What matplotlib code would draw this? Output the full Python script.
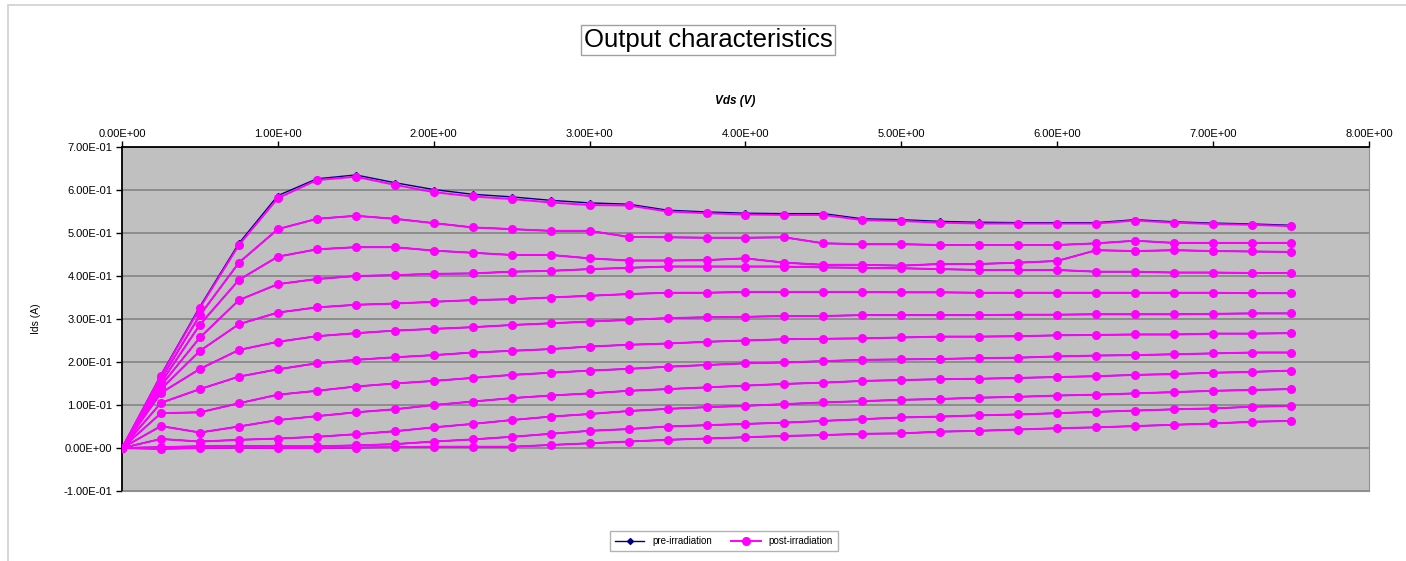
"""
Output characteristics: Ids vs Vds, pre- and post-irradiation
"""

import matplotlib.pyplot as plt
from matplotlib.patches import Rectangle

plt.rcParams['font.family'] = ['Liberation Sans', 'DejaVu Sans']

vds = [0.0, 0.25, 0.5, 0.75, 1.0, 1.25, 1.5, 1.75, 2.0, 2.25, 2.5, 2.75,
       3.0, 3.25, 3.5, 3.75, 4.0, 4.25, 4.5, 4.75, 5.0, 5.25, 5.5, 5.75,
       6.0, 6.25, 6.5, 6.75, 7.0, 7.25, 7.5]

# post-irradiation curves, highest gate bias first
post_1 = [0, 0.168, 0.326, 0.472, 0.581, 0.623, 0.631, 0.612, 0.595, 0.585,
          0.579, 0.571, 0.565, 0.564, 0.550, 0.546, 0.543, 0.542, 0.542,
          0.530, 0.528, 0.524, 0.522, 0.522, 0.522, 0.522, 0.529, 0.524,
          0.521, 0.519, 0.516]
post_2 = [0, 0.160, 0.309, 0.431, 0.509, 0.533, 0.540, 0.533, 0.523, 0.513,
          0.509, 0.505, 0.505, 0.491, 0.490, 0.489, 0.489, 0.490, 0.476,
          0.474, 0.474, 0.472, 0.472, 0.472, 0.472, 0.476, 0.482, 0.477,
          0.477, 0.477, 0.477]
post_3 = [0, 0.152, 0.287, 0.391, 0.445, 0.462, 0.467, 0.467, 0.459, 0.454,
          0.449, 0.449, 0.441, 0.436, 0.436, 0.437, 0.441, 0.431, 0.426,
          0.426, 0.424, 0.428, 0.428, 0.431, 0.435, 0.460, 0.458, 0.460,
          0.458, 0.457, 0.456]
post_4 = [0, 0.145, 0.257, 0.344, 0.381, 0.393, 0.400, 0.402, 0.405, 0.406,
          0.410, 0.412, 0.416, 0.419, 0.422, 0.422, 0.422, 0.422, 0.420,
          0.419, 0.418, 0.416, 0.414, 0.414, 0.414, 0.410, 0.410, 0.408,
          0.408, 0.407, 0.407]
post_5 = [0, 0.137, 0.226, 0.288, 0.315, 0.327, 0.333, 0.336, 0.340, 0.344,
          0.346, 0.350, 0.354, 0.358, 0.361, 0.361, 0.363, 0.363, 0.363,
          0.363, 0.362, 0.362, 0.361, 0.361, 0.361, 0.361, 0.361, 0.361,
          0.361, 0.360, 0.360]
post_6 = [0, 0.128, 0.184, 0.228, 0.247, 0.260, 0.267, 0.273, 0.277, 0.281,
          0.286, 0.290, 0.294, 0.298, 0.302, 0.304, 0.305, 0.307, 0.307,
          0.309, 0.309, 0.309, 0.309, 0.310, 0.310, 0.311, 0.311, 0.311,
          0.312, 0.313, 0.313]
post_7 = [0, 0.105, 0.137, 0.166, 0.183, 0.197, 0.205, 0.211, 0.216, 0.222,
          0.226, 0.230, 0.236, 0.240, 0.243, 0.247, 0.250, 0.253, 0.254,
          0.255, 0.257, 0.259, 0.259, 0.260, 0.262, 0.263, 0.264, 0.264,
          0.266, 0.266, 0.267]
post_8 = [0, 0.081, 0.083, 0.104, 0.124, 0.133, 0.143, 0.150, 0.156, 0.163,
          0.170, 0.175, 0.180, 0.184, 0.189, 0.193, 0.197, 0.199, 0.202,
          0.205, 0.206, 0.207, 0.209, 0.210, 0.213, 0.215, 0.216, 0.218,
          0.220, 0.222, 0.222]
post_9 = [0, 0.051, 0.036, 0.050, 0.065, 0.074, 0.083, 0.090, 0.100, 0.108,
          0.116, 0.122, 0.127, 0.133, 0.137, 0.141, 0.145, 0.149, 0.152,
          0.156, 0.158, 0.160, 0.161, 0.163, 0.165, 0.167, 0.170, 0.172,
          0.175, 0.177, 0.180]
post_10 = [0, 0.021, 0.015, 0.019, 0.022, 0.026, 0.032, 0.039, 0.048, 0.056,
           0.065, 0.073, 0.079, 0.086, 0.091, 0.095, 0.098, 0.102, 0.106,
           0.109, 0.112, 0.114, 0.117, 0.119, 0.122, 0.124, 0.127, 0.130,
           0.133, 0.135, 0.137]
post_11 = [0, 0.002, 0.004, 0.005, 0.004, 0.004, 0.006, 0.009, 0.015, 0.020,
           0.026, 0.033, 0.040, 0.044, 0.050, 0.053, 0.056, 0.059, 0.063,
           0.067, 0.071, 0.073, 0.076, 0.078, 0.081, 0.084, 0.087, 0.090,
           0.092, 0.096, 0.098]
post_12 = [0, -0.002, 0.000, 0.001, 0.000, 0.000, 0.001, 0.002, 0.003, 0.003,
           0.003, 0.007, 0.011, 0.015, 0.019, 0.022, 0.025, 0.028, 0.030,
           0.033, 0.034, 0.038, 0.040, 0.043, 0.046, 0.048, 0.051, 0.054,
           0.057, 0.061, 0.063]

# pre-irradiation: only the top curve sits visibly apart, the rest overlap
pre_1 = [0, 0.170, 0.329, 0.476, 0.587, 0.626, 0.635, 0.617, 0.601, 0.590,
         0.584, 0.576, 0.570, 0.567, 0.553, 0.549, 0.546, 0.545, 0.545,
         0.533, 0.531, 0.527, 0.525, 0.524, 0.524, 0.524, 0.531, 0.526,
         0.523, 0.521, 0.518]

post_curves = [post_1, post_2, post_3, post_4, post_5, post_6, post_7,
               post_8, post_9, post_10, post_11, post_12]
pre_curves = [pre_1] + post_curves[1:]

x_ticks = [0, 1, 2, 3, 4, 5, 6, 7, 8]
y_ticks = [-0.1, 0.0, 0.1, 0.2, 0.3, 0.4, 0.5, 0.6, 0.7]


def main():
    fig = plt.figure(figsize=(14.06, 5.61), dpi=100)

    # chart area frame
    fig.patches.append(Rectangle(
        (8 / 1406, -0.05), 1.1, 1 - 5 / 561 + 0.05, transform=fig.transFigure,
        fc='none', ec='#D0D0D0', lw=1.2, zorder=0))

    ax = fig.add_axes([122 / 1406, 70 / 561, 1247 / 1406, 344 / 561])
    ax.set_facecolor('#C0C0C0')

    for i, y in enumerate(pre_curves):
        ax.plot(vds, y, c='#000080', lw=1.0, marker='D', ms=3,
                label='pre-irradiation' if i == 0 else None, zorder=3)
    for i, y in enumerate(post_curves):
        ax.plot(vds, y, c='#FF00FF', lw=1.4, marker='o', ms=5.5,
                label='post-irradiation' if i == 0 else None, zorder=4)

    ax.set_xlim(0, 8)
    ax.set_ylim(-0.1, 0.7)
    ax.set_xticks(x_ticks)
    ax.set_yticks(y_ticks)
    ax.set_xticklabels(["{:.2E}".format(v) for v in x_ticks])
    ax.set_yticklabels(["{:.2E}".format(v) for v in y_ticks])
    ax.xaxis.tick_top()
    ax.tick_params(axis='x', which='both', top=True, bottom=False,
                   length=4, width=1, labelsize=8, pad=2)
    ax.tick_params(axis='y', length=4, width=1, labelsize=8, pad=3)
    ax.yaxis.grid(True, color='#7F7F7F', lw=1.1)
    ax.set_axisbelow(True)

    ax.spines['left'].set_color('black')
    ax.spines['left'].set_linewidth(1.3)
    ax.spines['top'].set_color('black')
    ax.spines['top'].set_linewidth(1.3)
    ax.spines['right'].set_color('#909090')
    ax.spines['bottom'].set_color('#909090')

    ax.set_ylabel("Ids (A)", fontsize=7.5, labelpad=16)
    fig.text(735 / 1406, 1 - 101 / 561, "Vds (V)", ha='center', va='center',
             fontsize=8.5, style='italic', weight='bold')
    fig.text(708 / 1406, 1 - 40 / 561, "Output characteristics",
             ha='center', va='center', fontsize=18.5,
             bbox=dict(fc='white', ec='#A0A0A0', lw=1,
                       boxstyle='square,pad=0.12'))

    leg = fig.legend(loc='center', bbox_to_anchor=(724 / 1406, 1 - 541 / 561),
                     ncol=2, fontsize=7, frameon=True, fancybox=False,
                     edgecolor='#A0A0A0', handlelength=3, columnspacing=2,
                     borderpad=0.5)
    leg.get_frame().set_linewidth(1)

    plt.savefig("out.png", dpi=100)


if __name__ == '__main__':
    main()
